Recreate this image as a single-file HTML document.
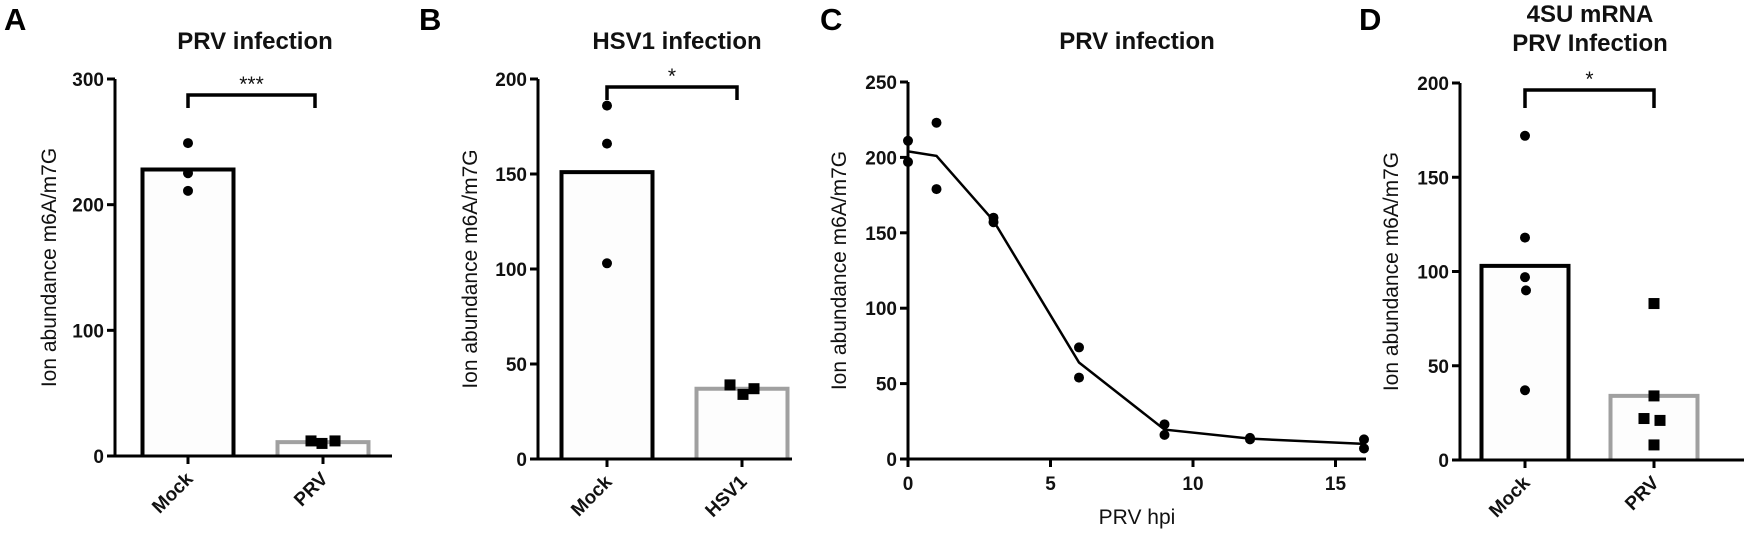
<!DOCTYPE html>
<html><head><meta charset="utf-8">
<style>
html,body{margin:0;padding:0;background:#fff;}
svg{display:block;font-family:"Liberation Sans",Arial,sans-serif;}
.tick{font-size:19px;font-weight:bold;fill:#111;}
.ttl{font-size:24px;font-weight:bold;fill:#111;}
.ax{font-size:21px;fill:#111;}
.lab{font-size:31px;font-weight:bold;fill:#000;}
</style></head>
<body>
<svg id="fig" width="1744" height="547" viewBox="0 0 1744 547" xmlns="http://www.w3.org/2000/svg"></svg>
<script>
// Panel A data
const aCats = ["Mock","PRV"];
const aMeans = [228, 11];
const aPts = [[249, 225, 211],[12, 10, 12]];
const aTicks = [0, 100, 200, 300];
// Panel B data
const bCats = ["Mock","HSV1"];
const bMeans = [151, 37];
const bPts = [[186, 166, 103],[39, 34, 37]];
const bTicks = [0, 50, 100, 150, 200];
// Panel C data
const cHours = [0, 1, 3, 6, 9, 12, 16];
const cRep1 = [211, 223, 160, 74, 23, 14, 13];
const cRep2 = [197, 179, 157, 54, 16, 13, 7];
const cMean = [204, 201, 158, 64, 19.5, 13.5, 10];
const cYTicks = [0, 50, 100, 150, 200, 250];
const cXTicks = [0, 5, 10, 15];
// Panel D data
const dCats = ["Mock","PRV"];
const dMeans = [103, 34];
const dPts = [[172, 118, 97, 90, 37],[83, 34, 22, 21, 8]];
const dTicks = [0, 50, 100, 150, 200];

const svg = document.getElementById('fig');
const NS = "http://www.w3.org/2000/svg";
function mk(tag, attrs, parent){
  const e = document.createElementNS(NS, tag);
  for (const k in attrs) e.setAttribute(k, attrs[k]);
  (parent||svg).appendChild(e);
  return e;
}
function txt(s, x, y, cls, anchor, parent, rot){
  const t = mk('text', {x:x, y:y, class:cls, 'text-anchor':anchor||'middle'}, parent);
  if (rot!==undefined) t.setAttribute('transform', 'rotate('+rot+' '+x+' '+y+')');
  t.textContent = s;
  return t;
}

function barPanel(opt){
  const g = mk('g', {});
  
  
  const y = v => opt.y0 - (v - 0) / opt.ymax * (opt.y0 - opt.yTop);
  opt.means.forEach((m, i) => {
    const cx = opt.cx[i];
    const b = mk('path', {d:'M'+(cx-opt.bw/2)+' '+opt.y0+' V'+y(m)+' H'+(cx+opt.bw/2)+' V'+opt.y0,
      fill:'#fdfdfd', stroke: i===0 ? '#000' : '#a0a0a0', 'stroke-width':4}, g);
    
    
  });
  const yaxis = mk('line', {x1:opt.x0, y1:opt.yTop, x2:opt.x0, y2:opt.y0+1.5, stroke:'#000', 'stroke-width':3}, g);
  
  
  const xaxis = mk('line', {x1:opt.x0-8, y1:opt.y0, x2:opt.xEnd, y2:opt.y0, stroke:'#000', 'stroke-width':3}, g);
  
  
  opt.ticks.forEach(t => {
    mk('line', {x1:opt.x0-8, y1:y(t), x2:opt.x0, y2:y(t), stroke:'#000', 'stroke-width':3}, g);
    const l = txt(String(t), opt.x0-11, y(t)+7, 'tick', 'end', g);
    
    
  });
  opt.cats.forEach((c, i) => {
    const cx = opt.cx[i];
    mk('line', {x1:cx, y1:opt.y0, x2:cx, y2:opt.y0+8, stroke:'#000', 'stroke-width':3}, g);
    const l = txt(c, cx+6, opt.y0+24, 'tick', 'end', g, -45);
    
    
  });
  opt.pts.forEach((arr, i) => {
    arr.forEach((v, j) => {
      const px = opt.cx[i] + opt.off[i][j];
      let p;
      if (i === 0) p = mk('circle', {cx:px, cy:y(v), r:5, fill:'#000'}, g);
      else p = mk('rect', {x:px-5.5, y:y(v)-5.5, width:11, height:11, fill:'#000'}, g);
      
      
    });
  });
  const br = mk('path', {d:'M'+opt.cx[0]+' '+opt.brY2+' V'+opt.brY+' H'+opt.brX2+' V'+opt.brY2, fill:'none', stroke:'#000', 'stroke-width':3.5}, g);
  
  
  const st = txt(opt.stars, (opt.cx[0]+opt.brX2)/2, opt.brY-4, 'ax', 'middle', g);
  
  
  const yt = txt('Ion abundance m6A/m7G', opt.yTitleX, (opt.yTop+opt.y0)/2, 'ax', 'middle', g, -90);
  
  
}

barPanel({name:'panel-a', cats:aCats, means:aMeans, pts:aPts, ticks:aTicks, ymax:300,
  x0:115, xEnd:392, y0:456, yTop:79, cx:[188,323], bw:91,
  off:[[0,0,0],[-12,-1,12]], brY:95, brY2:108, brX2:315, stars:'***', yTitleX:56});
barPanel({name:'panel-b', cats:bCats, means:bMeans, pts:bPts, ticks:bTicks, ymax:200,
  x0:538, xEnd:792, y0:459, yTop:79, cx:[607,742], bw:91,
  off:[[0,0,0],[-12,1,12]], brY:87, brY2:100, brX2:737, stars:'*', yTitleX:477});
barPanel({name:'panel-d', cats:dCats, means:dMeans, pts:dPts, ticks:dTicks, ymax:200,
  x0:1460, xEnd:1744, y0:460, yTop:83, cx:[1525,1654], bw:87,
  off:[[0,0,0,1,0],[0,0,-10,6,0]], brY:90, brY2:108, brX2:1654, stars:'*', yTitleX:1398});

(function(){
  const g = mk('g', {});
  
  
  const x0 = 908, y0 = 459, yTop = 82;
  const xs = v => x0 + v * 28.5;
  const ys = v => y0 - v / 250 * (y0 - yTop);
  const line = mk('polyline', {points: cHours.map((h,i)=>xs(h)+','+ys(cMean[i])).join(' '), fill:'none', stroke:'#000', 'stroke-width':2.5}, g);
  
  
  [cRep1, cRep2].forEach(rep => rep.forEach((v,i) => {
    const p = mk('circle', {cx:xs(cHours[i]), cy:ys(v), r:5, fill:'#000'}, g);
    
    
  }));
  const ya = mk('line', {x1:x0, y1:yTop, x2:x0, y2:y0+1.5, stroke:'#000', 'stroke-width':3}, g);
  
  
  const xa = mk('line', {x1:x0-8, y1:y0, x2:xs(16)+2, y2:y0, stroke:'#000', 'stroke-width':3}, g);
  
  
  cYTicks.forEach(t => {
    mk('line', {x1:x0-8, y1:ys(t), x2:x0, y2:ys(t), stroke:'#000', 'stroke-width':3}, g);
    const l = txt(String(t), x0-11, ys(t)+7, 'tick', 'end', g);
    
    
  });
  cXTicks.forEach(t => {
    mk('line', {x1:xs(t), y1:y0, x2:xs(t), y2:y0+8, stroke:'#000', 'stroke-width':3}, g);
    const l = txt(String(t), xs(t), y0+31, 'tick', 'middle', g);
    
    
  });
  const xt = txt('PRV hpi', 1137, 524, 'ax', 'middle', g);
  
  
  const yt = txt('Ion abundance m6A/m7G', 846, (yTop+y0)/2, 'ax', 'middle', g, -90);
  
  
})();

const titles = [['PRV infection',255,49],['HSV1 infection',677,49],['PRV infection',1137,49],['4SU mRNA',1590,22],['PRV Infection',1590,51]];
titles.forEach(t => {
  const e = txt(t[0], t[1], t[2], 'ttl', 'middle');
  
  
});
const letters = [['A',4,30],['B',419,30],['C',820,30],['D',1359,30]];
letters.forEach(t => {
  const e = txt(t[0], t[1], t[2], 'lab', 'start');
  
  
});
</script>
</body></html>
